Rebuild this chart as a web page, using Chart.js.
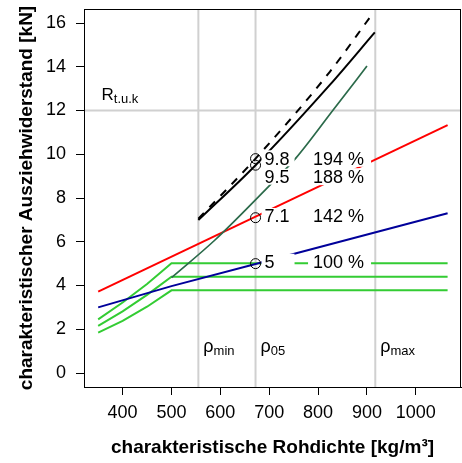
<!DOCTYPE html>
<html><head><meta charset="utf-8">
<script src="https://cdn.jsdelivr.net/npm/chart.js@4"></script>
<style>html,body{margin:0;padding:0;background:#fff;} canvas{display:block;}</style>
</head><body>
<canvas id="c" width="462" height="463"></canvas>
<script>
const xTicks = [400, 500, 600, 700, 800, 900, 1000];
const yTicks = [0, 2, 4, 6, 8, 10, 12, 14, 16];

const xRed = [350, 1065];
const yRed = [3.72, 11.33];
const xBlue = [350, 500, 672, 1065];
const yBlue = [3.0, 3.97, 4.98, 7.3];
const xGreen = [350, 400, 450, 500, 1065];
const yGreenHigh = [2.45, 3.22, 4.07, 5.02, 5.02];
const yGreenMid = [2.15, 2.82, 3.57, 4.4, 4.4];
const yGreenLow = [1.85, 2.38, 3.03, 3.78, 3.78];
const xDarkGreen = [500, 589, 705, 754, 830, 900];
const yDarkGreen = [4.36, 6.08, 8.67, 9.81, 12.0, 14.03];
const xBlack = [555, 672, 824, 916];
const yBlack = [6.99, 9.5, 13.17, 15.57];
const xBlackDashed = [555, 672, 824, 908];
const yBlackDashed = [7.05, 9.8, 13.77, 16.32];

const rho05 = 672;
const markValues = [9.8, 9.5, 7.1, 5];
const markLabels = ['9.8', '9.5', '7.1', '5'];
const percentLabels = ['194 %', '188 %', '142 %', '100 %'];

const rhoLines = [555, 672, 917];
const rhoSubs = ['min', '05', 'max'];
const rTuk = 12;

const FONT = '"Liberation Sans", Arial, sans-serif';
const pts = (xs, ys) => xs.map((x, i) => ({x: x, y: ys[i]}));

const annot = {
  id: 'annot',
  beforeDatasetsDraw(chart) {
    const {ctx, chartArea: a, scales: {x, y}} = chart;
    ctx.save();
    ctx.strokeStyle = '#d0d0d0';
    ctx.lineWidth = 2;
    rhoLines.forEach(v => {
      const px = x.getPixelForValue(v);
      ctx.beginPath(); ctx.moveTo(px, a.top); ctx.lineTo(px, a.bottom); ctx.stroke();
    });
    const py = y.getPixelForValue(rTuk);
    ctx.beginPath(); ctx.moveTo(a.left, py); ctx.lineTo(a.right, py); ctx.stroke();
    ctx.restore();
  },
  afterDatasetsDraw(chart) {
    const {ctx, chartArea: a, scales: {x, y}} = chart;
    const shift = [-0.3, 11.5, -1.7, -1.9];
    const bx = x.getPixelForValue(rho05);
    ctx.save();
    const rows = markValues.map((v, i) => y.getPixelForValue(v) + shift[i]);
    ctx.fillStyle = '#fff';
    rows.forEach(cy => {
      ctx.fillRect(bx + 6, cy - 8, 33, 16);
      ctx.fillRect(bx + 52.5, cy - 8.5, 63, 17);
    });
    ctx.fillStyle = '#000';
    ctx.font = '18px ' + FONT;
    ctx.textBaseline = 'alphabetic';
    ctx.textAlign = 'left';
    rows.forEach((cy, i) => {
      ctx.fillText(markLabels[i], bx + 9, cy + 6.4);
      ctx.fillText(percentLabels[i], bx + 57.5, cy + 6.4);
    });
    const ry = y.getPixelForValue(rTuk) - 10.5;
    ctx.font = '17px ' + FONT;
    ctx.fillText('R', a.left + 17.5, ry);
    const rw = ctx.measureText('R').width;
    ctx.font = '13px ' + FONT;
    ctx.fillText('t.u.k', a.left + 17.5 + rw, ry + 3);
    rhoLines.forEach((v, i) => {
      const px = x.getPixelForValue(v) + 5;
      const by = a.bottom - 35;
      ctx.font = '18px ' + FONT;
      ctx.fillText('\u03C1', px, by);
      const w = ctx.measureText('\u03C1').width;
      ctx.font = '13px ' + FONT;
      ctx.fillText(rhoSubs[i], px + w, by + 3);
    });
    ctx.restore();
  },
  afterDraw(chart) {
    const {ctx, chartArea: a} = chart;
    ctx.save();
    ctx.strokeStyle = '#000';
    ctx.lineWidth = 1;
    ctx.strokeRect(Math.round(a.left) + 0.5, Math.round(a.top) + 0.5, Math.round(a.right - a.left) - 1, Math.round(a.bottom - a.top));
    ctx.restore();
  }
};

const lineDs = (label, data, color, width, extra) => Object.assign({
  label: label, data: data, borderColor: color, borderWidth: width,
  pointRadius: 0, fill: false, tension: 0
}, extra || {});

const zeroPad = s => { s.paddingTop = 0; s.paddingBottom = 0; s.paddingLeft = 0; s.paddingRight = 0; };

new Chart(document.getElementById('c'), {
  type: 'line',
  data: {
    datasets: [
      {
        label: 'marks', data: markValues.map(v => ({x: rho05, y: v})),
        showLine: false, pointRadius: 5, pointHoverRadius: 5, pointBorderColor: '#000',
        pointBackgroundColor: 'rgba(0,0,0,0)', pointBorderWidth: 1
      },
      lineDs('dashed', pts(xBlackDashed, yBlackDashed), '#000', 2, {borderDash: [8, 8], cubicInterpolationMode: 'monotone'}),
      lineDs('solid', pts(xBlack, yBlack), '#000', 2, {cubicInterpolationMode: 'monotone'}),
      lineDs('darkgreen', pts(xDarkGreen, yDarkGreen), '#2b6a4a', 1.7, {cubicInterpolationMode: 'monotone'}),
      lineDs('red', pts(xRed, yRed), '#ff0000', 2),
      lineDs('blue', pts(xBlue, yBlue), '#00009a', 2),
      lineDs('gHigh', pts(xGreen, yGreenHigh), '#33cc33', 2),
      lineDs('gMid', pts(xGreen, yGreenMid), '#33cc33', 2),
      lineDs('gLow', pts(xGreen, yGreenLow), '#33cc33', 2)
    ]
  },
  options: {
    responsive: false,
    animation: false,
    events: [],
    layout: {autoPadding: false, padding: {top: 9, right: 1, bottom: 0, left: 0}},
    plugins: {legend: {display: false}, tooltip: {enabled: false}},
    scales: {
      x: {
        type: 'linear', min: 321, max: 1092.4,
        afterBuildTicks: s => { s.ticks = xTicks.map(v => ({value: v})); },
        afterFit: s => { s.height = 76; zeroPad(s); },
        ticks: {font: {family: FONT, size: 18}, color: '#000', padding: 7, autoSkip: false, maxRotation: 0, callback: v => String(v)},
        grid: {drawOnChartArea: false, tickLength: 8, color: '#000'},
        border: {display: true, color: '#000', width: 1},
        title: {display: true, text: 'charakteristische Rohdichte [kg/m³]', color: '#000',
          font: {family: FONT, size: 19, weight: 'bold'}, padding: {top: 0, bottom: 4}}
      },
      y: {
        type: 'linear', min: -0.64, max: 16.64,
        afterBuildTicks: s => { s.ticks = yTicks.map(v => ({value: v})); },
        afterFit: s => { s.width = 84; zeroPad(s); },
        ticks: {font: {family: FONT, size: 18}, color: '#000', padding: 10, autoSkip: false, callback: v => String(v)},
        grid: {drawOnChartArea: false, tickLength: 8, color: '#000'},
        border: {display: true, color: '#000', width: 1},
        title: {display: true, text: 'charakteristischer Ausziehwiderstand [kN]', color: '#000',
          font: {family: FONT, size: 19, weight: 'bold'}, padding: {top: 15, bottom: 0}}
      }
    }
  },
  plugins: [annot]
});
</script>
</body></html>
